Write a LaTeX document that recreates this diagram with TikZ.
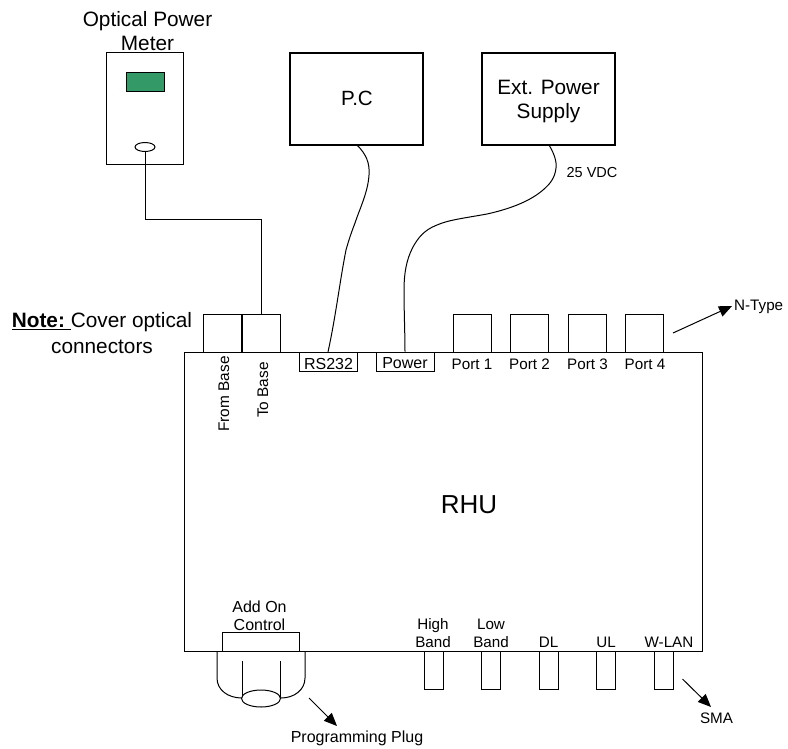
\documentclass[tikz,border=0pt]{standalone}
\usepackage{fontspec}
\setmainfont{Liberation Sans}
\usetikzlibrary{arrows.meta,positioning,shapes.geometric}
\tikzset{
  x=1pt,y=-1pt,
  box/.style={draw=black,line width=1pt,inner sep=0pt,fill=white},
  heavy/.style={draw=black,line width=2pt,inner sep=0pt,align=center},
  lab/.style={inner sep=0pt,align=center,font=\fontsize{16}{18.5}\selectfont},
  portlab/.style={inner sep=0pt,align=center,font=\fontsize{15.2}{18}\selectfont},
  big/.style={inner sep=0pt,align=center,font=\fontsize{20.8}{24}\selectfont},
  wire/.style={draw=black,line width=1pt},
  pointer/.style={draw=black,line width=1pt,-{Triangle[length=13pt,width=11pt]}},
  port/.style={box,minimum width=38pt,minimum height=38pt},
  sma/.style={box,minimum width=19pt,minimum height=38pt},
}
\begin{document}
\begin{tikzpicture}
\useasboundingbox (0,0) rectangle (788,748);
% RHU box
\node[box,fill=none,minimum width=518pt,minimum height=299pt] (rhu) at (443,501.5) {};
\node[inner sep=0pt,font=\fontsize{26}{30}\selectfont] (rhulab) at (469,505) {RHU};
% meter
\node[box,minimum width=77pt,minimum height=112pt] (meter) at (145,108.5) {};
\node[draw=black,line width=1pt,inner sep=0pt,minimum width=38pt,minimum height=19pt,fill={rgb,255:red,51;green,153;blue,102}] (screen) at (145,81.5) {};
\node[draw=black,line width=1pt,ellipse,inner sep=0pt,minimum width=20pt,minimum height=9pt] (jack) at (145,147) {};
\node[big] (meterlab) at (147.5,31) {Optical Power\\Meter};
% PC and PSU
\node[heavy,minimum width=133pt,minimum height=92pt] (pc) at (356.5,99) {};
\node[inner sep=0pt,font=\fontsize{20.6}{24}\selectfont] (pclab) at (357,98.5) {P.C};
\node[heavy,minimum width=133pt,minimum height=92pt] (psu) at (548.5,99) {};
\node[big] (psulab) at (548.5,101) {Ext. Power\\Supply};
\node[lab,font=\fontsize{14.5}{17}\selectfont] (vdc) at (592,173) {25 VDC};
% optical connectors
\node[port] (fb) at (222.5,333) {};
\node[port] (tb) at (261,333) {};
\node[inner sep=0pt,align=center,font=\fontsize{20.8}{25.5}\selectfont] (note) at (102,333) {\underline{\textbf{Note:}\ }Cover optical\\connectors};
\node[lab,rotate=90,font=\fontsize{15.4}{18}\selectfont] (fblab) at (224,394) {From Base};
\node[lab,rotate=90,font=\fontsize{15.4}{18}\selectfont] (tblab) at (263,390) {To Base};
% RS232 power
\node[box,minimum width=58pt,minimum height=19pt] (rs) at (328.5,361.5) {};
\node[lab] (rslab) at (328.5,363.5) {RS232};
\node[box,minimum width=58pt,minimum height=19pt] (pw) at (405,361.5) {};
\node[lab] (pwlab) at (405,363.5) {Power};
% N-type ports
\node[port] (p1) at (472,333) {};
\node[port] (p2) at (529.5,333) {};
\node[port] (p3) at (587,333) {};
\node[port] (p4) at (644.5,333) {};
\node[portlab] (p1l) at (472,364) {Port 1};
\node[portlab] (p2l) at (529.5,364) {Port 2};
\node[portlab] (p3l) at (587.5,364) {Port 3};
\node[portlab] (p4l) at (645,364) {Port 4};
\node[portlab,anchor=west] (nt) at (734,307) {N-Type};
\coordinate (ntA) at (673,333);
\coordinate (ntB) at (732,306);
\draw[pointer] (ntA) -- (ntB);
% bottom connectors
\node[sma] (s1) at (433.5,670) {};
\node[sma] (s2) at (491,670) {};
\node[sma] (s3) at (548.5,670) {};
\node[sma] (s4) at (606,670) {};
\node[sma] (s5) at (663.5,670) {};
\node[portlab] (s1l) at (433,633.5) {High\\Band};
\node[portlab] (s2l) at (491,633.5) {Low\\Band};
\node[portlab] (s3l) at (548.5,642) {DL};
\node[portlab] (s4l) at (606,642) {UL};
\node[portlab] (s5l) at (669,642) {W-LAN};
\node[portlab] (sma) at (716.5,718) {SMA};
\coordinate (smaA) at (682.5,679);
\coordinate (smaB) at (711,707);
\draw[pointer] (smaA) -- (smaB);
% add on control
\node[box,fill=none,minimum width=77pt,minimum height=19pt] (ctl) at (260.5,641.5) {};
\node[lab] (ctll) at (259.5,616) {Add On\\Control};
\coordinate (pa) at (217,651);
\coordinate (pb) at (305,651);
\coordinate (pc1) at (242,698);
\coordinate (pc2) at (281,698);
\coordinate (in1) at (242,661);
\coordinate (in2) at (280,661);
\draw[wire] (pa) -- (217,678) .. controls (217,690) and (228,698) .. (pc1);
\draw[wire] (pb) -- (305,678) .. controls (305,690) and (294,698) .. (pc2);
\draw[wire] (in1) -- (242,698);
\draw[wire] (in2) -- (280,698);
\node[draw=black,line width=1pt,ellipse,fill=white,inner sep=0pt,minimum width=39pt,minimum height=17pt] (plug) at (261,698.5) {};
\node[lab] (pplab) at (357,738) {Programming Plug};
\coordinate (ppA) at (309,698);
\coordinate (ppB) at (337,726);
\draw[pointer] (ppA) -- (ppB);
% cables
\draw[wire] (jack.south) -- (145,219) -- (261,219) -- (tb.north);
\coordinate (pcout) at (357,145);
\draw[wire] (pcout) .. controls (366,154) and (370,163) .. (369,175) .. controls (368,192) and (360,208) .. (355,223) .. controls (350,236) and (348,243) .. (346,250) .. controls (340,280) and (336,315) .. (328,352);
\coordinate (psout) at (549,145);
\draw[wire] (psout) .. controls (554,153) and (557,162) .. (556,168) .. controls (555,178) and (550,184) .. (543,190) .. controls (528,203) and (505,210) .. (487,214) .. controls (465,218) and (448,220) .. (437,225) .. controls (424,230) and (418,238) .. (413,247) .. controls (406,260) and (404,275) .. (404,290) .. controls (404,310) and (405,335) .. (pw.north);
\end{tikzpicture}
\end{document}
